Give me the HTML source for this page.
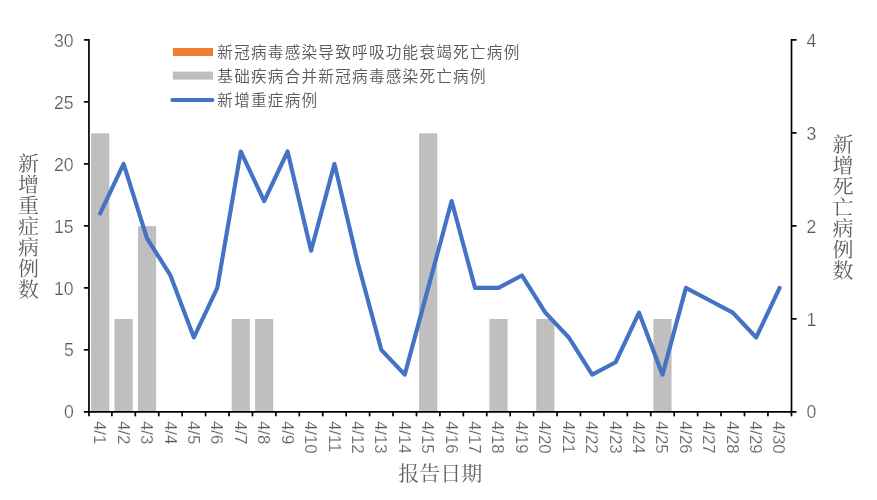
<!DOCTYPE html>
<html lang="zh-CN"><head><meta charset="utf-8"><title>新增重症病例与死亡病例</title>
<style>html,body{margin:0;padding:0;background:#fff;}svg{display:block;}
.n{font-family:"Liberation Sans","Noto Sans CJK SC",sans-serif;font-size:17.65px;fill:#595959;stroke:#fff;stroke-width:0.22px;}
.x{font-size:16.85px;}
.lg{font-family:"Liberation Sans","Noto Sans CJK SC",sans-serif;font-weight:350;font-size:15.6px;letter-spacing:1.25px;fill:#595959;}
.tt{font-family:"Liberation Serif","Noto Serif CJK SC",serif;font-weight:400;font-size:20.0px;fill:#5f5f5f;}
.v{writing-mode:vertical-rl;letter-spacing:1.03px;}
</style></head><body>
<svg width="877" height="500" viewBox="0 0 877 500">
<rect width="877" height="500" fill="#fff"/>
<g fill="#BFBFBF">
<rect x="91.07" y="133.34" width="18.20" height="278.51"/>
<rect x="114.50" y="319.01" width="18.20" height="92.84"/>
<rect x="137.93" y="226.18" width="18.20" height="185.68"/>
<rect x="231.65" y="319.01" width="18.20" height="92.84"/>
<rect x="255.08" y="319.01" width="18.20" height="92.84"/>
<rect x="419.08" y="133.34" width="18.20" height="278.51"/>
<rect x="489.37" y="319.01" width="18.20" height="92.84"/>
<rect x="536.24" y="319.01" width="18.20" height="92.84"/>
<rect x="653.38" y="319.01" width="18.20" height="92.84"/>
</g>
<g stroke="#000" stroke-width="1.7" fill="none">
<path d="M88.95 39.05 V412.70"/>
<path d="M791.50 39.05 V412.70"/>
<path d="M83.85 411.85 H796.60"/>
<path d="M83.85 349.86 H88.95"/>
<path d="M83.85 287.87 H88.95"/>
<path d="M83.85 225.88 H88.95"/>
<path d="M83.85 163.88 H88.95"/>
<path d="M83.85 101.89 H88.95"/>
<path d="M83.85 39.90 H88.95"/>
<path d="M791.50 318.86 H796.60"/>
<path d="M791.50 225.88 H796.60"/>
<path d="M791.50 132.89 H796.60"/>
<path d="M791.50 39.90 H796.60"/>
<path d="M88.95 411.85 V416.35"/>
<path d="M791.50 411.85 V416.35"/>
<path d="M111.88 411.85 V416.35"/>
<path d="M135.31 411.85 V416.35"/>
<path d="M158.74 411.85 V416.35"/>
<path d="M182.17 411.85 V416.35"/>
<path d="M205.60 411.85 V416.35"/>
<path d="M229.03 411.85 V416.35"/>
<path d="M252.46 411.85 V416.35"/>
<path d="M275.89 411.85 V416.35"/>
<path d="M299.32 411.85 V416.35"/>
<path d="M322.75 411.85 V416.35"/>
<path d="M346.18 411.85 V416.35"/>
<path d="M369.61 411.85 V416.35"/>
<path d="M393.04 411.85 V416.35"/>
<path d="M416.47 411.85 V416.35"/>
<path d="M439.90 411.85 V416.35"/>
<path d="M463.33 411.85 V416.35"/>
<path d="M486.76 411.85 V416.35"/>
<path d="M510.19 411.85 V416.35"/>
<path d="M533.62 411.85 V416.35"/>
<path d="M557.05 411.85 V416.35"/>
<path d="M580.48 411.85 V416.35"/>
<path d="M603.91 411.85 V416.35"/>
<path d="M627.34 411.85 V416.35"/>
<path d="M650.77 411.85 V416.35"/>
<path d="M674.20 411.85 V416.35"/>
<path d="M697.63 411.85 V416.35"/>
<path d="M721.06 411.85 V416.35"/>
<path d="M744.49 411.85 V416.35"/>
<path d="M767.92 411.85 V416.35"/>
</g>
<polyline points="100.17,213.48 123.59,163.88 147.03,238.27 170.45,275.47 193.88,337.46 217.31,287.87 240.75,151.49 264.18,201.08 287.61,151.49 311.04,250.67 334.46,163.88 357.89,263.07 381.32,349.86 404.75,374.66 428.19,287.87 451.62,201.08 475.04,287.87 498.47,287.87 521.90,275.47 545.34,312.66 568.76,337.46 592.20,374.66 615.62,362.26 639.06,312.66 662.49,374.66 685.92,287.87 709.35,300.26 732.78,312.66 756.21,337.46 779.63,287.87" fill="none" stroke="#4472C4" stroke-width="4.15" stroke-linejoin="round" stroke-linecap="round"/>
<text class="n" x="73.70" y="418.25" text-anchor="end">0</text>
<text class="n" x="73.70" y="356.43" text-anchor="end">5</text>
<text class="n" x="73.70" y="294.60" text-anchor="end">10</text>
<text class="n" x="73.70" y="232.78" text-anchor="end">15</text>
<text class="n" x="73.70" y="170.95" text-anchor="end">20</text>
<text class="n" x="73.70" y="109.12" text-anchor="end">25</text>
<text class="n" x="73.70" y="47.30" text-anchor="end">30</text>
<text class="n" x="806.60" y="418.25">0</text>
<text class="n" x="806.60" y="325.51">1</text>
<text class="n" x="806.60" y="232.78">2</text>
<text class="n" x="806.60" y="140.04">3</text>
<text class="n" x="806.60" y="47.30">4</text>
<text class="n x" transform="translate(94.31,420.90) rotate(90) scale(1,0.95)">4/1</text>
<text class="n x" transform="translate(117.73,420.90) rotate(90) scale(1,0.95)">4/2</text>
<text class="n x" transform="translate(141.15,420.90) rotate(90) scale(1,0.95)">4/3</text>
<text class="n x" transform="translate(164.57,420.90) rotate(90) scale(1,0.95)">4/4</text>
<text class="n x" transform="translate(187.99,420.90) rotate(90) scale(1,0.95)">4/5</text>
<text class="n x" transform="translate(211.41,420.90) rotate(90) scale(1,0.95)">4/6</text>
<text class="n x" transform="translate(234.83,420.90) rotate(90) scale(1,0.95)">4/7</text>
<text class="n x" transform="translate(258.25,420.90) rotate(90) scale(1,0.95)">4/8</text>
<text class="n x" transform="translate(281.67,420.90) rotate(90) scale(1,0.95)">4/9</text>
<text class="n x" transform="translate(305.09,420.90) rotate(90) scale(1,0.95)">4/10</text>
<text class="n x" transform="translate(328.51,420.90) rotate(90) scale(1,0.95)">4/11</text>
<text class="n x" transform="translate(351.93,420.90) rotate(90) scale(1,0.95)">4/12</text>
<text class="n x" transform="translate(375.35,420.90) rotate(90) scale(1,0.95)">4/13</text>
<text class="n x" transform="translate(398.77,420.90) rotate(90) scale(1,0.95)">4/14</text>
<text class="n x" transform="translate(422.19,420.90) rotate(90) scale(1,0.95)">4/15</text>
<text class="n x" transform="translate(445.61,420.90) rotate(90) scale(1,0.95)">4/16</text>
<text class="n x" transform="translate(469.03,420.90) rotate(90) scale(1,0.95)">4/17</text>
<text class="n x" transform="translate(492.45,420.90) rotate(90) scale(1,0.95)">4/18</text>
<text class="n x" transform="translate(515.87,420.90) rotate(90) scale(1,0.95)">4/19</text>
<text class="n x" transform="translate(539.29,420.90) rotate(90) scale(1,0.95)">4/20</text>
<text class="n x" transform="translate(562.71,420.90) rotate(90) scale(1,0.95)">4/21</text>
<text class="n x" transform="translate(586.13,420.90) rotate(90) scale(1,0.95)">4/22</text>
<text class="n x" transform="translate(609.55,420.90) rotate(90) scale(1,0.95)">4/23</text>
<text class="n x" transform="translate(632.97,420.90) rotate(90) scale(1,0.95)">4/24</text>
<text class="n x" transform="translate(656.39,420.90) rotate(90) scale(1,0.95)">4/25</text>
<text class="n x" transform="translate(679.81,420.90) rotate(90) scale(1,0.95)">4/26</text>
<text class="n x" transform="translate(703.23,420.90) rotate(90) scale(1,0.95)">4/27</text>
<text class="n x" transform="translate(726.65,420.90) rotate(90) scale(1,0.95)">4/28</text>
<text class="n x" transform="translate(750.07,420.90) rotate(90) scale(1,0.95)">4/29</text>
<text class="n x" transform="translate(773.49,420.90) rotate(90) scale(1,0.95)">4/30</text>
<rect x="172.9" y="48" width="40.1" height="8" fill="#ED7D31"/>
<rect x="172.9" y="71.6" width="40.1" height="8" fill="#BFBFBF"/>
<path d="M172.3 100 H212.4" stroke="#4472C4" stroke-width="4" stroke-linecap="round" fill="none"/>
<text class="lg" x="217.30" y="58.10">新冠病毒感染导致呼吸功能衰竭死亡病例</text>
<text class="lg" x="217.30" y="82.00">基础疾病合并新冠病毒感染死亡病例</text>
<text class="lg" x="217.30" y="105.90">新增重症病例</text>
<text class="tt v" transform="translate(26.50,153.00) scale(1.05,1)">新增重症病例数</text>
<text class="tt v" transform="translate(840.90,134.40) scale(1.05,1)">新增死亡病例数</text>
<text class="tt" transform="translate(440.20,480.60) scale(1.05,1)" text-anchor="middle">报告日期</text>
</svg></body></html>
